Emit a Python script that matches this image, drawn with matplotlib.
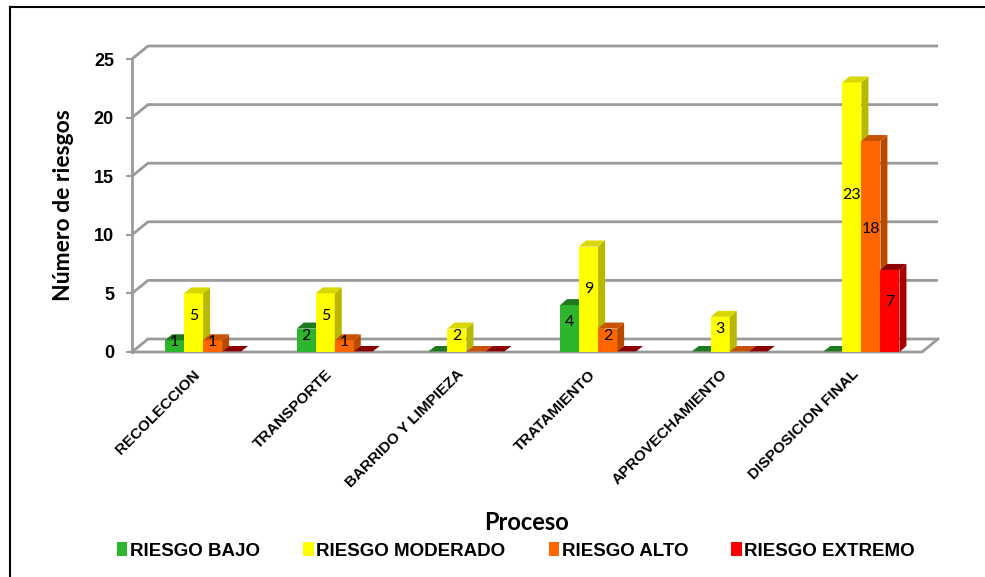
import matplotlib
matplotlib.use('Agg')
import matplotlib.pyplot as plt
from matplotlib.patches import Polygon, Patch
from matplotlib.lines import Line2D
import numpy as np

# ========== ДАННЫЕ ==========
procesos = ['RECOLECCION', 'TRANSPORTE', 'BARRIDO Y LIMPIEZA',
            'TRATAMIENTO', 'APROVECHAMIENTO', 'DISPOSICION FINAL']
series = ['RIESGO BAJO', 'RIESGO MODERADO', 'RIESGO ALTO', 'RIESGO EXTREMO']
bajo = [1, 2, 0, 4, 0, 0]
moderado = [5, 5, 2, 9, 3, 23]
alto = [1, 1, 0, 2, 0, 18]
extremo = [0, 0, 0, 0, 0, 7]
valores = [bajo, moderado, alto, extremo]
yticks = [0, 5, 10, 15, 20, 25]

# цвета: лицевая, боковая, верхняя грани
front_col = ['#2DB52D', '#FFFF00', '#FF6600', '#FF0000']
side_col = ['#1E8C1E', '#B8B800', '#B84A00', '#A80000']
top_col = ['#1F7A1F', '#D8D800', '#C85200', '#8B0000']
grid_col = '#9A9A9A'

W, H = 985, 577
fig = plt.figure(figsize=(W / 100, H / 100), dpi=100)
fig.patch.set_facecolor('white')

# ось в пикселях: слева 132, справа 922, низ 352, верх 59
ax = fig.add_axes([132 / W, (H - 352) / H, 790 / W, 293 / H])
xmin, xmax = -0.54, 5.46
ax.set_xlim(xmin, xmax)
ax.set_ylim(0, 25)
px_x = 790 / (xmax - xmin)
px_y = 293 / 25.0

# глубина стенки и столбцов
wdx, wdy = 16 / px_x, 13 / px_y
bdx, bdy = 7 / px_x, 6 / px_y
bw = 19 / px_x

# задняя стенка: линии сетки
for v in yticks:
    ax.plot([xmin, xmin + wdx, xmax + wdx], [v, v + wdy, v + wdy],
            color=grid_col, lw=2, clip_on=False, zorder=1,
            solid_capstyle='butt')
# пол
ax.plot([xmin, xmax, xmax + wdx], [0, 0, wdy], color=grid_col, lw=2,
        clip_on=False, zorder=1)

# столбцы
x = np.arange(len(procesos))
for j in range(len(series)):
    vals = valores[j]
    for i in range(len(procesos)):
        v = vals[i]
        x0 = x[i] + (j - 2) * bw
        x1 = x0 + bw
        z = 3 + i * 10 + j
        if v > 0:
            ax.add_patch(Polygon([(x0, 0), (x1, 0), (x1, v), (x0, v)],
                                 closed=True, fc=front_col[j], ec='none',
                                 zorder=z, clip_on=False))
            ax.add_patch(Polygon([(x1, 0), (x1 + bdx, bdy), (x1 + bdx, v + bdy), (x1, v)],
                                 closed=True, fc=side_col[j], ec='none',
                                 zorder=z, clip_on=False))
            ax.add_patch(Polygon([(x0, v), (x1, v), (x1 + bdx, v + bdy), (x0 + bdx, v + bdy)],
                                 closed=True, fc=top_col[j], ec='none',
                                 zorder=z, clip_on=False))
            ax.text(x0 + bw / 2, 0.57 * v + 0.25, str(v), ha='center', va='center',
                    fontsize=11.5, family='Lato', color='black', zorder=z)
        else:
            ax.add_patch(Polygon([(x0, 0.05), (x1, 0.05), (x1 + bdx, bdy), (x0 + bdx, bdy)],
                                 closed=True, fc=top_col[j], ec='none',
                                 zorder=z, clip_on=False))

# оси
for s in ['top', 'right', 'bottom']:
    ax.spines[s].set_visible(False)
ax.spines['left'].set_color(grid_col)
ax.spines['left'].set_linewidth(2)
ax.set_yticks(yticks)
ax.set_yticklabels([str(t) for t in yticks], fontsize=13, fontweight='bold',
                   family='Liberation Sans')
ax.tick_params(axis='y', colors=grid_col, labelcolor='black', length=4,
               width=1.5, pad=9)
ax.set_xticks(x)
ax.set_xticklabels(procesos, rotation=45, ha='right', fontsize=11,
                   fontweight='bold', family='Liberation Sans')
ax.tick_params(axis='x', length=0, pad=11)
ax.patch.set_alpha(0)

ax.set_ylabel('Número de riesgos', fontsize=16.5, fontweight='bold',
              family='Lato', labelpad=14)
fig.text(527 / W, (H - 523) / H, 'Proceso', ha='center', va='center',
         fontsize=17, fontweight='bold', family='Lato')

handles = [Patch(facecolor=c, edgecolor='none') for c in front_col]
fig.legend(handles, series, ncol=4, loc='center',
           bbox_to_anchor=(516 / W, (H - 551) / H), frameon=False,
           prop={'family': 'Liberation Sans', 'weight': 'bold', 'size': 13.5},
           handlelength=0.55, handleheight=0.75, handletextpad=0.15,
           columnspacing=2.3)

# рамка
fig.add_artist(Line2D([10 / W, 1], [1 - 7 / H, 1 - 7 / H], color='black', lw=1.5))
fig.add_artist(Line2D([10 / W, 10 / W], [0, 1 - 7 / H], color='black', lw=1.5))

fig.savefig('out.png', dpi=100)
